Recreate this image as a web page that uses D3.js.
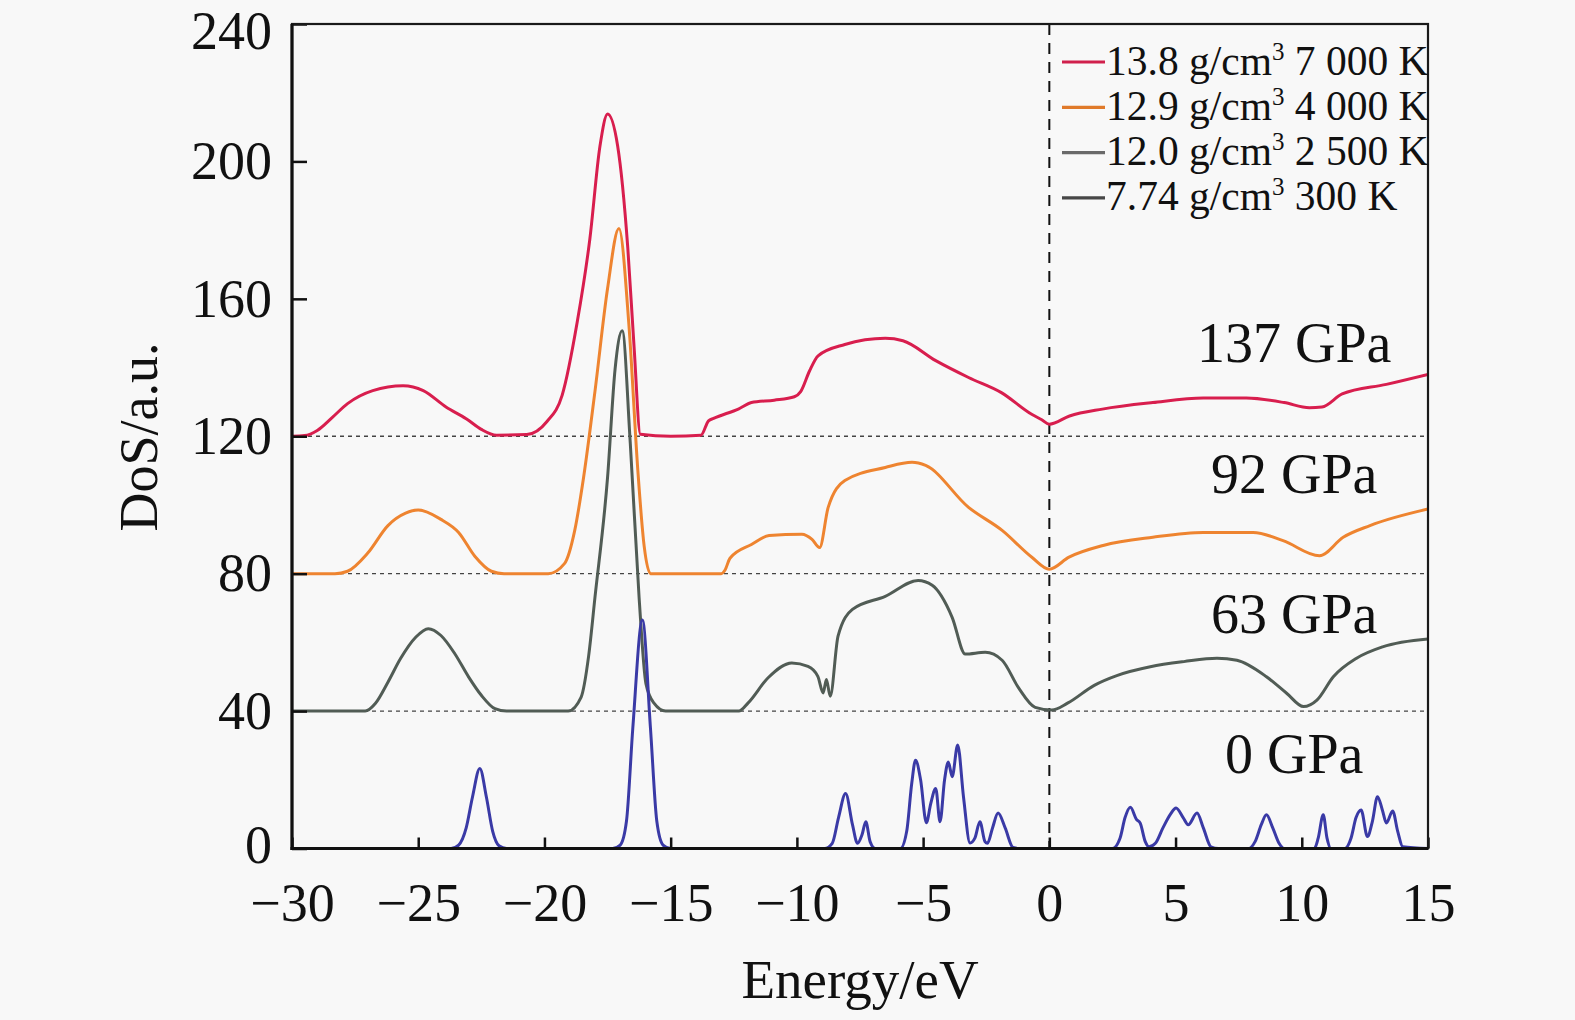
<!DOCTYPE html>
<html><head><meta charset="utf-8">
<script src="https://cdn.jsdelivr.net/npm/d3@7"></script>
<style>
html,body{margin:0;padding:0;background:#f8f8f8;}
svg{display:block;}
text{font-family:"Liberation Serif","Times New Roman",serif;fill:#111;}
</style></head><body>
<svg id="c" width="1575" height="1020"></svg>
<script>
// ---------- data ----------
const xTicks = [-30,-25,-20,-15,-10,-5,0,5,10,15];
const yTicks = [0,40,80,120,160,200,240];
const baselines = [40,80,120];
const pressureLabels = ["137 GPa","92 GPa","63 GPa","0 GPa"];
const legendDensity = ["13.8","12.9","12.0","7.74"];
const legendTemp = ["7 000 K","4 000 K","2 500 K","300 K"];

// 137 GPa, 13.8 g/cm3, 7000 K
const dos137 = [[-30,120],[-29.5,120.2],[-29,121.7],[-28.4,125.5],[-27.8,129.5],[-26.8,133.3],[-25.6,134.7],[-24.8,133.3],[-23.9,128.5],[-23.1,125.1],[-22.5,122],[-21.9,120.3],[-20.7,120.5],[-19.9,124.3],[-19.3,131.9],[-18.7,153.3],[-18.2,177.5],[-17.8,204.5],[-17.5,213.8],[-17.1,204.5],[-16.7,175],[-16.45,146],[-16.2,120.6],[-15,120],[-13.8,120.3],[-13.5,124.5],[-13.3,125.2],[-12.3,128],[-11.8,129.8],[-10.9,130.5],[-10.1,131.5],[-9.85,133],[-9.5,139],[-9.16,143.4],[-8.1,146.7],[-6.5,148.5],[-5.8,147.8],[-4.5,142],[-3.2,137.1],[-1.9,132.7],[-0.7,126.4],[-0.3,124.8],[0,123.5],[0.8,125.9],[2.1,127.9],[4.1,129.8],[6.1,131.1],[7.8,131.1],[9.3,129.8],[10.3,128.3],[10.8,128.5],[11.6,132.3],[13.35,135.1],[15,138]];
// 92 GPa, 12.9 g/cm3, 4000 K
const dos92 = [[-30,80],[-28.3,80],[-27.8,80.7],[-27,86],[-26.2,94],[-25.5,97.6],[-25,98.5],[-24.1,95.8],[-23.4,92],[-22.75,85],[-22.1,80.7],[-21.6,80],[-19.85,80],[-19.2,83],[-18.8,92.6],[-18.45,108],[-18.0,133],[-17.5,163],[-17.05,180.5],[-16.65,152],[-16.3,110],[-16.05,88],[-15.8,80],[-13,80],[-12.85,81],[-12.65,84.5],[-11.8,88.5],[-11.1,91.1],[-9.8,91.5],[-9.4,90],[-9.1,87.6],[-8.76,99.3],[-8.1,107.1],[-6.5,110.9],[-5.44,112.4],[-4.9,111.5],[-3.2,99.3],[-1.87,92.6],[-0.68,84.7],[0,81.3],[0.78,84.8],[2.13,88.2],[4.1,90.6],[6.1,92],[8.07,92],[9.26,89.6],[10.7,85.2],[11.64,90.6],[12.7,94],[15,98.8]];
// 63 GPa, 12.0 g/cm3, 2500 K
const dos63 = [[-30,40],[-27.1,40],[-26.7,42.2],[-26.2,48.4],[-25.7,55.3],[-25.1,61.5],[-24.6,64],[-24.1,62],[-23.55,56.7],[-23,49.9],[-22.5,44.6],[-21.96,40.7],[-21.5,40],[-19.06,40],[-18.55,44],[-18.25,56],[-18.0,73],[-17.5,108],[-17.2,139.7],[-16.92,150.7],[-16.6,118],[-16.25,73],[-15.98,48],[-15.66,42.3],[-15.2,40],[-12.3,40],[-11.93,42.4],[-11.14,49.7],[-10.2,54],[-9.56,53],[-9.17,50.1],[-8.96,45.3],[-8.83,49.2],[-8.68,44.3],[-8.37,61.8],[-7.8,69.6],[-6.5,73.4],[-5.2,78],[-4.64,76.6],[-3.85,67.3],[-3.33,56.6],[-2.54,57.1],[-1.87,54.8],[-1.23,46.9],[-0.56,41.1],[0.1,40.3],[0.72,42.3],[1.78,47.5],[2.7,50.4],[4.0,52.9],[5.33,54.4],[6.64,55.4],[7.43,54.8],[8.6,50],[9.4,45.2],[10.07,41.3],[10.6,43.2],[11.25,50],[12.17,55.4],[13.2,58.7],[15,61]];
// 0 GPa, 7.74 g/cm3, 300 K
const dos0 = [[-30,0],[-23.7,0],[-23.4,1],[-23.1,6],[-22.85,15],[-22.56,23.3],[-22.3,15],[-22.05,5],[-21.8,0.8],[-21.5,0],
[-17.3,0],[-17.0,1],[-16.75,8],[-16.5,35],[-16.12,66.5],[-15.8,35],[-15.55,8],[-15.3,1],[-15.0,0],
[-8.9,0],[-8.6,1.5],[-8.35,9],[-8.07,16],[-7.8,7],[-7.6,1.5],[-7.42,4],[-7.27,7.8],[-7.1,2],[-6.9,0],
[-5.9,0],[-5.65,5],[-5.45,19],[-5.3,25.7],[-5.1,20],[-4.87,7.5],[-4.7,13],[-4.5,17.5],[-4.33,7.8],[-4.15,20],[-4.0,25.2],[-3.85,20.9],[-3.63,30.1],[-3.4,15],[-3.14,1.6],[-2.95,3],[-2.75,7.8],[-2.55,2],[-2.45,1.5],[-2.25,6],[-2.03,10.3],[-1.75,6],[-1.44,0.3],[-1.2,0],
[2.5,0],[2.8,3],[3.0,9],[3.21,12],[3.45,8.5],[3.6,7.4],[3.8,2],[3.95,0.5],[4.2,1.5],[4.5,6],[4.8,10],[5.02,11.8],[5.3,9],[5.5,6.9],[5.85,10.3],[6.1,6],[6.4,0.5],[6.7,0],
[7.9,0],[8.15,2],[8.4,7],[8.6,9.8],[8.85,6],[9.1,1.5],[9.3,0],
[10.5,0],[10.65,3],[10.85,9.8],[11.0,3],[11.15,0],
[11.7,0],[11.95,3],[12.15,9],[12.35,11.2],[12.6,3.5],[12.8,8],[13.0,15.1],[13.2,11],[13.35,7.4],[13.6,10.9],[13.8,5],[14.0,0.5],[15,0]];

const curves = [dos137, dos92, dos63, dos0];
const curveColors = ["#d81e4e","#ee8430","#515c55","#3a3aa6"];
const legendColors = ["#d0204c","#e07a2a","#6a6a6a","#474747"];

// ---------- drawing ----------
const svg = d3.select("#c");
svg.append("rect").attr("width",1575).attr("height",1020).attr("fill","#f8f8f8");

const x = d3.scaleLinear().domain([-30,15]).range([292,1428]);
const y = d3.scaleLinear().domain([0,240]).range([848.5,24]);

svg.append("defs").append("clipPath").attr("id","plot")
  .append("rect").attr("x",x(-30)).attr("y",y(240)).attr("width",x(15)-x(-30)).attr("height",y(0)-y(240));

// baselines
svg.append("g").selectAll("line").data(baselines).join("line")
  .attr("x1",x(-30)).attr("x2",x(15)).attr("y1",d=>y(d)).attr("y2",d=>y(d))
  .attr("stroke","#444").attr("stroke-width",1.3).attr("stroke-dasharray","4,4");

// vertical dashed line at 0
svg.append("line").attr("x1",x(0)).attr("x2",x(0)).attr("y1",y(240)).attr("y2",y(0))
  .attr("stroke","#111").attr("stroke-width",2).attr("stroke-dasharray","11,8");

// curves
const line = d3.line().x(d=>x(d[0])).y(d=>y(d[1])).curve(d3.curveMonotoneX);
svg.append("g").attr("clip-path","url(#plot)").selectAll("path").data(curves).join("path")
  .attr("d",line).attr("fill","none")
  .attr("stroke",(d,i)=>curveColors[i]).attr("stroke-width",3).attr("stroke-linejoin","round");

// axes
const fs = 54;
const xAxis = d3.axisBottom(x).tickValues(xTicks).tickSizeInner(-11).tickSizeOuter(0).tickPadding(34);
const gx = svg.append("g").attr("transform",`translate(0,${y(0)})`).call(xAxis);
gx.select(".domain").remove();
gx.selectAll(".tick line").attr("stroke","#111").attr("stroke-width",2.5);
gx.selectAll("text").attr("font-size",fs).attr("font-family",'"Liberation Serif",serif').attr("fill","#111");

const yAxis = d3.axisLeft(y).tickValues(yTicks).tickSizeInner(-15).tickSizeOuter(0).tickPadding(20);
const gy = svg.append("g").attr("transform",`translate(${x(-30)},0)`).call(yAxis);
gy.select(".domain").remove();
gy.selectAll(".tick line").attr("stroke","#111").attr("stroke-width",2.5);
gy.selectAll("text").attr("font-size",fs).attr("font-family",'"Liberation Serif",serif').attr("fill","#111");
// keep the top label inside the picture and the bottom one clear of the x labels
gy.selectAll(".tick").filter(d=>d===240).select("text").attr("dy","0.45em");
gy.selectAll(".tick").filter(d=>d===0).select("text").attr("dy","0.26em");

// frame
svg.append("rect").attr("x",x(-30)).attr("y",y(240)).attr("width",x(15)-x(-30)).attr("height",y(0)-y(240))
  .attr("fill","none").attr("stroke","#1a1a1a").attr("stroke-width",2.2);
svg.append("line").attr("x1",x(-30)).attr("x2",x(-30)).attr("y1",y(240)).attr("y2",y(0)+1.5).attr("stroke","#111").attr("stroke-width",3.2);
svg.append("line").attr("x1",x(-30)-1.5).attr("x2",x(15)).attr("y1",y(0)).attr("y2",y(0)).attr("stroke","#111").attr("stroke-width",3.2);

// axis titles
svg.append("text").attr("x",860).attr("y",998).attr("text-anchor","middle").attr("font-size",55).text("Energy/eV");
svg.append("text").attr("transform","translate(157,437) rotate(-90)").attr("text-anchor","middle").attr("font-size",54).text("DoS/a.u.");

// pressure labels
const labelVals = [141.5,103.4,62.6,22];
svg.append("g").selectAll("text").data(pressureLabels).join("text")
  .attr("x",x(9.7)).attr("y",(d,i)=>y(labelVals[i]))
  .attr("text-anchor","middle").attr("font-size",56).text(d=>d);

// legend
const lg = svg.append("g");
legendDensity.forEach((dens,i)=>{
  const cy = 62 + i*45.3;
  lg.append("line").attr("x1",1062).attr("x2",1105).attr("y1",cy).attr("y2",cy)
    .attr("stroke",legendColors[i]).attr("stroke-width",3.2);
  const t = lg.append("text").attr("x",1106).attr("y",cy+12.5).attr("font-size",41.5);
  t.append("tspan").text(dens+" g/cm");
  t.append("tspan").attr("font-size",25).attr("dy",-15).text("3");
  t.append("tspan").attr("dy",15).text(" "+legendTemp[i]);
});
</script>
</body></html>
